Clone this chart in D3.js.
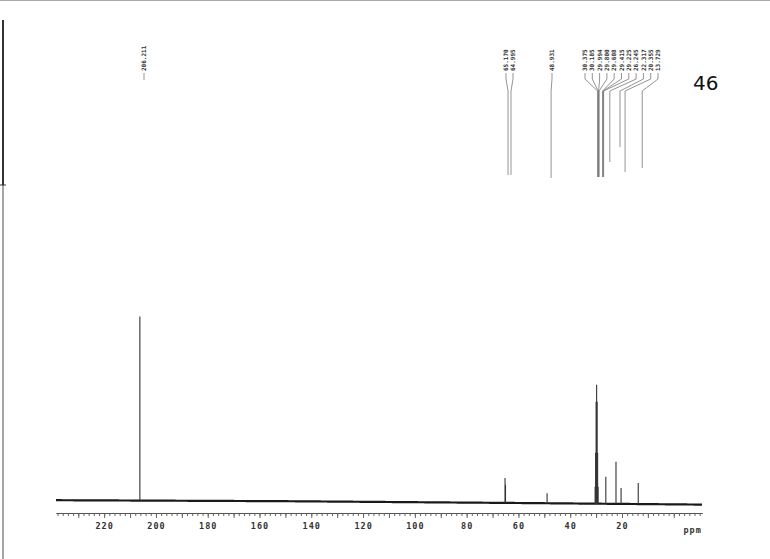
<!DOCTYPE html>
<html><head><meta charset="utf-8">
<script src="https://cdn.jsdelivr.net/npm/d3@7"></script>
<style>html,body{margin:0;padding:0;background:#fff;}svg{display:block;}</style>
</head><body>
<script>
// ---- data ----
const peakPpm    = [206.211, 65.170, 64.995, 48.931, 30.375, 30.185, 29.994, 29.800, 29.608, 29.415, 29.225, 26.245, 22.317, 20.355, 13.729];
const peakHeight = [184, 25, 18, 10, 17, 51, 102, 119, 102, 51, 17, 27, 42, 16, 21];
const peakLabels = ["206.211","65.170","64.995","48.931","30.375","30.185","29.994","29.800","29.608","29.415","29.225","26.245","22.317","20.355","13.729"];
const baselinePpm   = [238.6, 150, 60, -10.9];
const baselineLevel = [1.8, 0.8, -1.0, -2.6];
const majorTicks = [220, 200, 180, 160, 140, 120, 100, 80, 60, 40, 20];
const axisUnit = "ppm";
const sampleNote = "46";

const W = 770, H = 559;
const svg = d3.select("body").append("svg").attr("width", W).attr("height", H);

const x = d3.scaleLinear().domain([238.6, -10.9]).range([56, 702]);
const y = d3.scaleLinear().domain([0, 100]).range([502, 402]);
const base = d3.scaleLinear().domain(baselinePpm).range(baselineLevel);

// page frame artifacts
svg.append("line").attr("x1",0).attr("x2",W).attr("y1",0.5).attr("y2",0.5).attr("stroke","#aaa").attr("stroke-width",1);
svg.append("line").attr("x1",3).attr("x2",3).attr("y1",20).attr("y2",185).attr("stroke","#333").attr("stroke-width",2);
svg.append("line").attr("x1",3).attr("x2",3).attr("y1",185).attr("y2",H).attr("stroke","#666").attr("stroke-width",1.2);
svg.append("line").attr("x1",0).attr("x2",6).attr("y1",185).attr("y2",185).attr("stroke","#333").attr("stroke-width",1);

// baseline
const bpts = d3.range(238.6, -10.9, -0.5).concat([-10.9]);
svg.append("path")
  .datum(bpts)
  .attr("fill","none").attr("stroke","#1a1a1a").attr("stroke-width",2.2)
  .attr("d", d3.line().x(d => x(d)).y(d => y(base(d))));

// peaks
svg.append("g").selectAll("line").data(peakPpm).join("line")
  .attr("x1", d => x(d)).attr("x2", d => x(d))
  .attr("y1", d => y(base(d)))
  .attr("y2", (d,i) => y(base(d) + peakHeight[i]))
  .attr("stroke", "#333").attr("stroke-width", 1.1);

// axis
const axG = svg.append("g").attr("transform","translate(0,513)");
axG.call(d3.axisBottom(x).tickValues(d3.range(-10, 239, 2)).tickSize(3).tickSizeOuter(0).tickFormat(""));
axG.append("g").call(d3.axisBottom(x).tickValues(d3.range(0, 239, 10)).tickSize(5).tickSizeOuter(0).tickFormat(""));
const lab = svg.append("g").attr("transform","translate(0,513)")
  .call(d3.axisBottom(x).tickValues(majorTicks).tickSize(0).tickPadding(10).tickFormat(d3.format("d")));
lab.select(".domain").remove();
svg.selectAll(".domain").attr("stroke","#555");
svg.selectAll(".tick line").attr("stroke","#666");
lab.selectAll("text").attr("font-family","DejaVu Sans Mono").attr("font-weight","bold")
  .attr("font-size", 8.5).attr("fill","#333").attr("letter-spacing", 1);
svg.append("text").attr("x", x(-7.3)).attr("y", 533).attr("text-anchor","middle")
  .attr("font-family","DejaVu Sans Mono").attr("font-weight","bold").attr("font-size",8.5)
  .attr("letter-spacing",1).attr("fill","#333").text(axisUnit);

// peak labels and leaders
const labelX = [144, 506, 513, 552, 585, 592.3, 599.6, 606.9, 614.2, 621.5, 628.8, 636.1, 643.4, 650.7, 658];
const leaderEnd = [80, 175, 175, 178, 177, 177, 177, 177, 177, 177, 177, 162, 147, 172, 168];
const leaderShift = [0, -1, 1.5, 0, -1.5, -1.5, -1.5, -1.5, 1.5, 1.5, 1.5, 0, 0, 0, 0];
const lg = svg.append("g");
peakPpm.forEach((p, i) => {
  const lx = labelX[i], px = x(p) + 4 + leaderShift[i];
  lg.append("text")
    .attr("transform", `translate(${lx},71) rotate(-90)`)
    .attr("dy","0.35em")
    .attr("font-family","DejaVu Sans Mono").attr("font-weight","bold").attr("font-size",6)
    .attr("fill","#333").text(peakLabels[i]);
  let pts;
  if (i === 0) pts = [[lx,73],[lx,leaderEnd[i]]];
  else pts = [[lx,73],[lx,79],[px,91],[px,leaderEnd[i]]];
  lg.append("path").attr("d", d3.line()(pts)).attr("fill","none")
    .attr("stroke","#666").attr("stroke-width",0.7);
});

// handwritten sample number
svg.append("text").attr("x",693).attr("y",90)
  .attr("font-family","DejaVu Sans").attr("font-size",20)
  .attr("font-weight","normal").attr("fill","#111").text(sampleNote);
</script>
</body></html>
